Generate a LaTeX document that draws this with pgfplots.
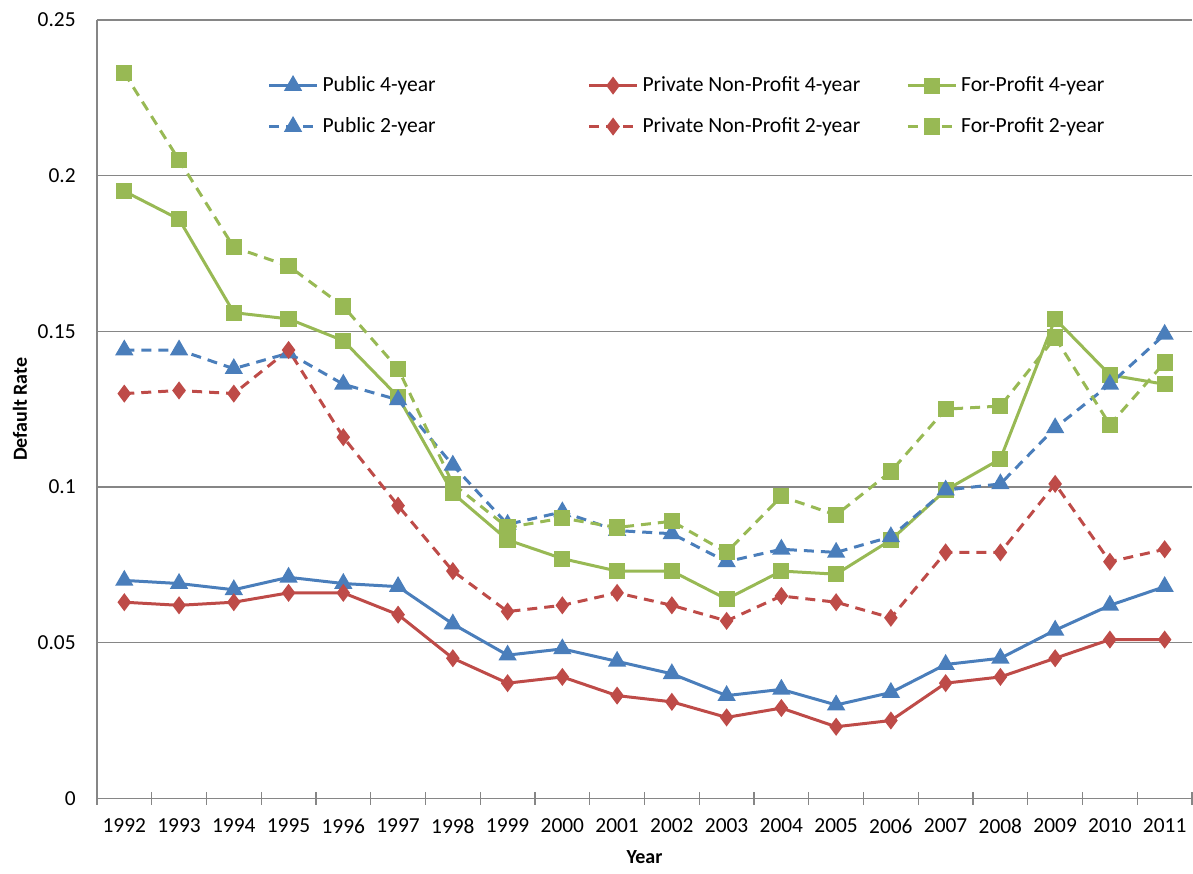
\documentclass[border=0pt]{standalone}
\usepackage{pgfplots}
\pgfplotsset{compat=1.18}
\usepackage{fontspec}
\setmainfont{Carlito}
\definecolor{cblue}{HTML}{4A7EBB}
\definecolor{cred}{HTML}{BE4B48}
\definecolor{cgreen}{HTML}{98B954}
\definecolor{cgrid}{HTML}{868686}
\begin{document}
\begin{tikzpicture}
\begin{axis}[
  scale only axis,
  width=548pt, height=389.5pt,
  xmin=-0.5, xmax=19.5,
  ymin=0, ymax=0.25,
  axis lines=left,
  axis line style={cgrid, line width=0.6pt, -},
  xtick={0,...,19},
  xticklabels={1992,1993,1994,1995,1996,1997,1998,1999,2000,2001,2002,2003,2004,2005,2006,2007,2008,2009,2010,2011},
  major x tick style={draw=none},
  minor xtick={-0.5,0.5,...,19.5},
  minor x tick style={cgrid, line width=0.6pt},
  minor tick length=6.5pt,
  tick align=center,
  ytick={0,0.05,0.1,0.15,0.2,0.25},
  yticklabels={0,0.05,0.1,0.15,0.2,0.25},
  major y tick style={draw=none},
  ymajorgrids,
  grid style={cgrid, line width=0.6pt},
  tick label style={font=\fontsize{10.7}{12}\selectfont},
  xticklabel style={yshift=-4.5pt},
  yticklabel style={xshift=-5pt},
  xlabel={\textbf{Year}},
  ylabel={\textbf{Default Rate}},
  label style={font=\fontsize{10}{12}\selectfont},
  xlabel style={at={(axis description cs:0.5,0)}, anchor=center, yshift=-29.5pt},
  ylabel style={at={(axis description cs:0,0.5)}, anchor=center, yshift=38.5pt},
  legend columns=3,
  legend image code/.code={\draw[mark repeat=2,mark phase=2,#1] plot coordinates {(0pt,0pt)(12pt,0pt)(24pt,0pt)};},
  legend style={draw=none, fill=none, at={(axis description cs:0.15,0.938)}, anchor=north west,
    font=\fontsize{10.8}{12}\selectfont, row sep=7.5pt,
    cells={anchor=west},
    /tikz/column 2/.style={column sep=74pt},
    /tikz/column 4/.style={column sep=21pt}},
  clip=false,
]
\addplot[cblue, line width=1.5pt, mark=triangle*, mark size=3.8pt, mark options={solid}] coordinates {
(0,0.070)(1,0.069)(2,0.067)(3,0.071)(4,0.069)(5,0.068)(6,0.056)(7,0.046)(8,0.048)(9,0.044)
(10,0.040)(11,0.033)(12,0.035)(13,0.030)(14,0.034)(15,0.043)(16,0.045)(17,0.054)(18,0.062)(19,0.068)};
\addlegendentry{Public 4-year}
\addplot[cred, line width=1.5pt, mark=diamond*, mark size=3.3pt, mark options={solid}] coordinates {
(0,0.063)(1,0.062)(2,0.063)(3,0.066)(4,0.066)(5,0.059)(6,0.045)(7,0.037)(8,0.039)(9,0.033)
(10,0.031)(11,0.026)(12,0.029)(13,0.023)(14,0.025)(15,0.037)(16,0.039)(17,0.045)(18,0.051)(19,0.051)};
\addlegendentry{Private Non-Profit 4-year}
\addplot[cgreen, line width=1.5pt, mark=square*, mark size=3.3pt, mark options={solid}] coordinates {
(0,0.195)(1,0.186)(2,0.156)(3,0.154)(4,0.147)(5,0.129)(6,0.098)(7,0.083)(8,0.077)(9,0.073)
(10,0.073)(11,0.064)(12,0.073)(13,0.072)(14,0.083)(15,0.099)(16,0.109)(17,0.154)(18,0.136)(19,0.133)};
\addlegendentry{For-Profit 4-year}
\addplot[cblue, line width=1.5pt, dash pattern=on 5pt off 3.5pt, mark=triangle*, mark size=3.8pt, mark options={solid}] coordinates {
(0,0.144)(1,0.144)(2,0.138)(3,0.143)(4,0.133)(5,0.128)(6,0.107)(7,0.088)(8,0.092)(9,0.086)
(10,0.085)(11,0.076)(12,0.080)(13,0.079)(14,0.084)(15,0.099)(16,0.101)(17,0.119)(18,0.133)(19,0.149)};
\addlegendentry{Public 2-year}
\addplot[cred, line width=1.5pt, dash pattern=on 5pt off 3.5pt, mark=diamond*, mark size=3.3pt, mark options={solid}] coordinates {
(0,0.130)(1,0.131)(2,0.130)(3,0.144)(4,0.116)(5,0.094)(6,0.073)(7,0.060)(8,0.062)(9,0.066)
(10,0.062)(11,0.057)(12,0.065)(13,0.063)(14,0.058)(15,0.079)(16,0.079)(17,0.101)(18,0.076)(19,0.080)};
\addlegendentry{Private Non-Profit 2-year}
\addplot[cgreen, line width=1.5pt, dash pattern=on 5pt off 3.5pt, mark=square*, mark size=3.3pt, mark options={solid}] coordinates {
(0,0.233)(1,0.205)(2,0.177)(3,0.171)(4,0.158)(5,0.138)(6,0.101)(7,0.087)(8,0.090)(9,0.087)
(10,0.089)(11,0.079)(12,0.097)(13,0.091)(14,0.105)(15,0.125)(16,0.126)(17,0.148)(18,0.120)(19,0.140)};
\addlegendentry{For-Profit 2-year}
\end{axis}
\useasboundingbox ([xshift=-48.5pt,yshift=-37.5pt]current axis.south west) rectangle ([yshift=10pt]current axis.north east);
\end{tikzpicture}
\end{document}
